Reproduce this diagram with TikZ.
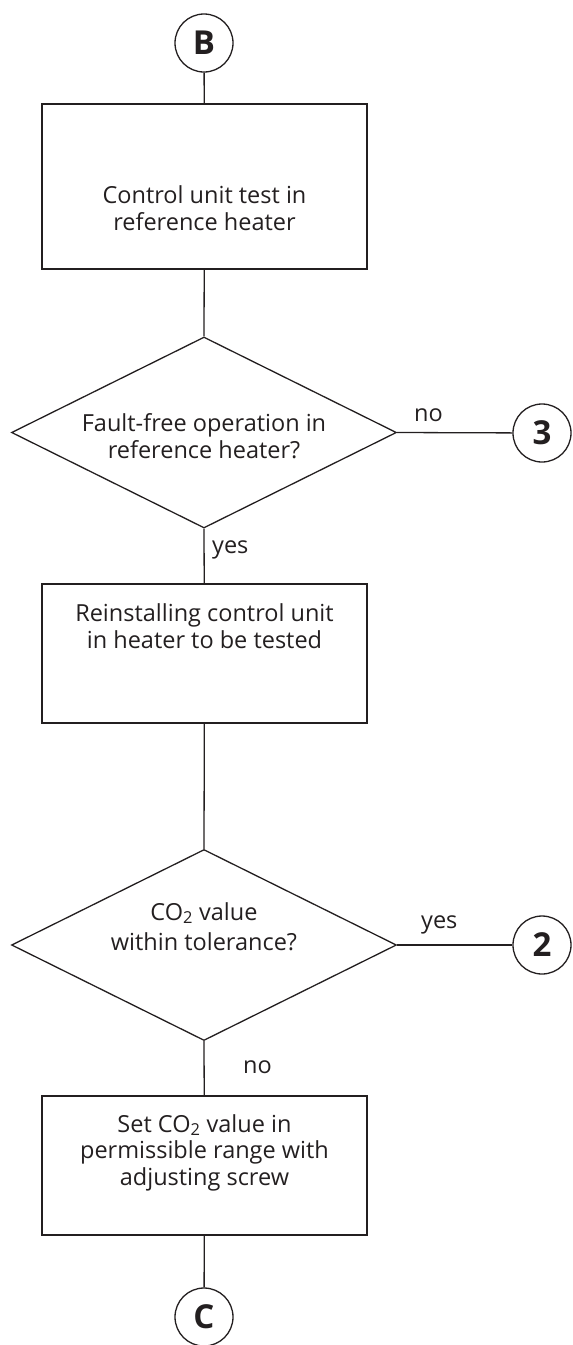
\documentclass[tikz,border=0pt]{standalone}
\usepackage{fontspec}
\setmainfont{Open Sans}
\usetikzlibrary{shapes.geometric}
\definecolor{ink}{HTML}{231F20}
\begin{document}
\begin{tikzpicture}[x=1pt,y=-1pt,
  every node/.style={text=ink},
  conn/.style={draw=ink,line width=1.3pt},
  stepbox/.style={draw=ink,line width=1.5pt,minimum width=325pt,inner sep=0pt},
  dec/.style={draw=ink,line width=1.3pt,diamond,aspect=2.01,minimum width=385pt,minimum height=191pt,inner sep=0pt},
  conncirc/.style={draw=ink,line width=1.3pt,circle,minimum size=58pt,inner sep=0pt,font=\fontsize{33}{33}\selectfont\bfseries},
  lbl/.style={font=\fontsize{23.5}{27}\selectfont,align=center,inner sep=0pt,anchor=base},
  edgelbl/.style={font=\fontsize{23.5}{27}\selectfont,inner sep=0pt,anchor=base west}
]
\useasboundingbox (0,0) rectangle (573,1345);
% connector circles
\node[conncirc] (B) at (204,43) {B};
\node[conncirc] (c3) at (542,433) {3};
\node[conncirc] (c2) at (542,945) {2};
\node[conncirc] (C) at (204,1317) {C};
% boxes (anchor=base sits on the last line's baseline)
\node[stepbox,minimum height=165pt] (box1) at (204.5,186.5) {};
\node[lbl] at (204.5,230) {Control unit test in\\reference heater};
\node[stepbox,minimum height=139pt] (box2) at (204.5,653.5) {};
\node[lbl] at (204.5,648) {Reinstalling control unit\\in heater to be tested};
\node[stepbox,minimum height=139pt] (box3) at (204.5,1165.5) {};
\node[lbl,font=\fontsize{23.5}{26.5}\selectfont] at (204.5,1185) {Set CO\textsubscript{2} value in\\permissible range with\\adjusting screw};
% diamonds
\node[dec] (d1) at (204,432.5) {};
\node[lbl] at (204,458) {Fault-free operation in\\reference heater?};
\node[dec] (d2) at (204,945) {};
\node[lbl,font=\fontsize{23.5}{30}\selectfont] at (204,950) {CO\textsubscript{2} value\\within tolerance?};
% connectors
\draw[conn] (B) -- (box1);
\draw[conn] (box1) -- (d1.north);
\draw[conn] (d1.east) -- (c3);
\draw[conn] (d1.south) -- (box2);
\draw[conn] (box2) -- (d2.north);
\draw[conn] (d2.east) -- (c2);
\draw[conn] (d2.south) -- (box3);
\draw[conn] (box3) -- (C);
% edge labels
\node[edgelbl] at (414,421) {no};
\node[edgelbl] at (212,553) {yes};
\node[edgelbl] at (421,928) {yes};
\node[edgelbl] at (243,1073) {no};
\end{tikzpicture}
\end{document}
